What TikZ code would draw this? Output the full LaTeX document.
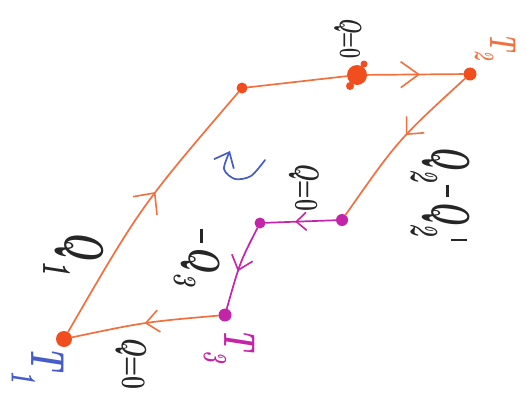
\documentclass[tikz,border=0pt]{standalone}
\usepackage{graphicx}
\usetikzlibrary{arrows.meta,decorations.markings}

\definecolor{edgeorange}{RGB}{242,112,62}
\definecolor{dotred}{RGB}{240,78,30}
\definecolor{purp}{RGB}{196,36,168}
\definecolor{pen}{RGB}{70,92,200}
\definecolor{ink}{RGB}{38,38,38}

\tikzset{
  wire/.style={line width=1.7pt, line cap=round, line join=round},
  owire/.style={wire, draw=edgeorange},
  mwire/.style={wire, draw=purp},
  midarrow/.style n args={4}{postaction={decorate},
    decoration={markings, mark=at position #1 with
      {\arrow[#2, line width=1.6pt]{Straight Barb[length=#3, width=#4]}}}},
  dotnode/.style={circle, inner sep=0pt, minimum size=#1},
  lbl/.style={rotate=-90, inner sep=0pt},
}

% font size helper and hand-style subscript / prime / minus
\newcommand{\fsz}[1]{\fontsize{#1}{#1}\selectfont}
\newcommand{\lowidx}[2][-0.3em]{\raisebox{#1}{\scalebox{0.75}{#2}}}
\newcommand{\hprime}{\hspace{0.08em}\raisebox{0.35em}{\rule{0.07em}{0.3em}}}
\newcommand{\hminus}{\hspace{0.1em}\raisebox{0.25em}{\rule{0.45em}{0.055em}}\hspace{0.1em}}

\begin{document}
\begin{tikzpicture}[x=1pt,y=-1pt]
\useasboundingbox (0,0) rectangle (526,404);

% states of the cycle
\node[dotnode=16pt, fill=dotred] (t1) at (64,339) {};
\node[dotnode=11pt, fill=dotred] (a)  at (242,88) {};
\node[dotnode=20pt, fill=dotred] (b)  at (357,75) {};
\node[dotnode=13pt, fill=dotred] (t2) at (470,74) {};
\node[dotnode=12pt, fill=purp]   (c)  at (342,220) {};
\node[dotnode=11pt, fill=purp]   (d)  at (260,223) {};
\node[dotnode=13pt, fill=purp]   (t3) at (225,315) {};

% ragged edges of the big blob
\fill[dotred] (350,86) circle (4pt);
\fill[dotred] (364,64) circle (3.5pt);

% orange branches
\draw[owire, midarrow={0.56}{edgeorange}{16pt}{30pt}] (t1) .. controls (141,206) .. (a);
\draw[owire] (a) -- (b);
\draw[owire, midarrow={0.55}{edgeorange}{18pt}{26pt}] (b) -- (t2);
\draw[owire, midarrow={0.45}{edgeorange}{13pt}{24pt}] (t2) .. controls (398,140) .. (c);
\draw[owire, midarrow={0.5}{edgeorange}{13pt}{22pt}] (t3) .. controls (145,322) .. (t1);

% magenta branches
\draw[mwire, midarrow={0.58}{purp}{10pt}{18pt}] (c) -- (d);
\draw[mwire, midarrow={0.55}{purp}{13pt}{22pt}] (d) .. controls (240,262) .. (t3);

% sense of circulation
\draw[pen, wire, -{Straight Barb[length=13pt, width=22pt]}]
  plot[smooth] coordinates {(265,160) (251,176) (235,179) (224,169) (230,151)};

% temperatures
\node[lbl, text=pen, font=\fsz{30}\itshape\bfseries]        (lt1) at (38,365)
  {\scalebox{1}[1.6]{T\lowidx[-0.42em]{1}}};
\node[lbl, text=edgeorange, font=\fsz{22}\itshape\bfseries] (lt2) at (495,47)
  {\scalebox{1}[1.7]{T\lowidx[-0.4em]{2}}};
\node[lbl, text=purp, font=\fsz{28}\itshape\bfseries]       (lt3) at (229,346)
  {\scalebox{1}[1.6]{T\lowidx[-0.45em]{3}}};

% heats exchanged
\node[lbl, text=ink, font=\fsz{34}\itshape\bfseries] (lq1) at (74,253)
  {\scalebox{1}[1.6]{Q\lowidx[-0.4em]{1}}};
\node[lbl, text=ink, font=\fsz{23}\itshape\bfseries] (lqa) at (131,363)
  {\scalebox{1}[1.5]{Q\upshape =0}};
\node[lbl, text=ink, font=\fsz{18}\itshape\bfseries] (lqb) at (348,38)
  {\scalebox{1}[1.7]{Q\upshape =0}};
\node[lbl, text=ink, font=\fsz{21}\itshape\bfseries] (lqc) at (304,187)
  {\scalebox{1}[1.6]{Q\upshape =0}};
\node[lbl, text=ink, font=\fsz{28}\itshape\bfseries] (lq2) at (440,193)
  {\scalebox{1}[1.9]{Q\lowidx[-0.4em]{2}\hminus Q\lowidx[-0.4em]{2}\hprime}};
\node[lbl, text=ink, font=\fsz{31}\itshape\bfseries] (lq3) at (197,256)
  {\scalebox{1}[1.4]{\hminus Q\lowidx[-0.35em]{3}}};
\end{tikzpicture}
\end{document}
